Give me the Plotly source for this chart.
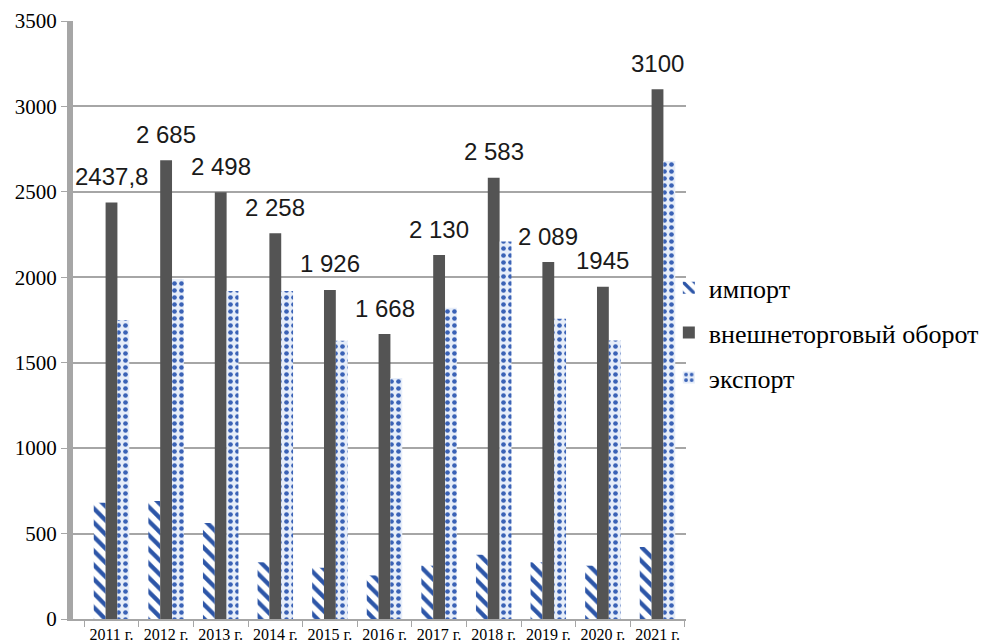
import plotly.graph_objects as go

years = ["2011 г.", "2012 г.", "2013 г.", "2014 г.", "2015 г.", "2016 г.",
         "2017 г.", "2018 г.", "2019 г.", "2020 г.", "2021 г."]
import_vals = [680, 690, 562, 332, 300, 255, 312, 376, 332, 312, 422]
total_vals = [2437.8, 2685, 2498, 2258, 1926, 1668, 2130, 2583, 2089, 1945, 3100]
export_vals = [1750, 1990, 1920, 1920, 1628, 1410, 1822, 2210, 1758, 1630, 2680]
total_labels = ["2437,8", "2 685", "2 498", "2 258", "1 926", "1 668",
                "2 130", "2 583", "2 089", "1945", "3100"]

serif = "Liberation Serif"
sans = "Liberation Sans"

fig = go.Figure()
fig.add_trace(go.Bar(
    x=years, y=import_vals, name="импорт", legendgroup="a",
    marker=dict(color="white", line=dict(width=0),
                pattern=dict(shape="\\", fgcolor="#2d56a8", bgcolor="white",
                             fgopacity=1, size=10, solidity=0.42)),
))
fig.add_trace(go.Bar(
    x=years, y=total_vals, name="внешнеторговый оборот", legendgroup="b",
    marker=dict(color="#545454", line=dict(width=0)),
))
fig.add_trace(go.Bar(
    x=years, y=export_vals, name="экспорт", legendgroup="c",
    marker=dict(color="#e6edf9", line=dict(width=0),
                pattern=dict(shape=".", fgcolor="#3a62b6", bgcolor="#e6edf9",
                             fgopacity=1, size=7, solidity=0.35)),
))

for x, y, t in zip(years, total_vals, total_labels):
    fig.add_annotation(x=x, y=y, text=t, showarrow=False, yshift=26,
                       font=dict(family=sans, size=24, color="#1a1a1a"))

fig.update_layout(
    width=981, height=636,
    margin=dict(l=65, r=303, t=13, b=25, autoexpand=False),
    paper_bgcolor="white", plot_bgcolor="white",
    barmode="group", bargap=0.35, bargroupgap=0.0,
    legend=dict(x=0.972, y=0.593, xanchor="left", yanchor="top",
                font=dict(family=serif, size=26, color="black"),
                tracegroupgap=8, bgcolor="rgba(0,0,0,0)"),
    xaxis=dict(tickfont=dict(family=serif, size=16, color="black"),
               automargin=False,
               showline=True, linecolor="#a6a6a6", linewidth=2,
               ticks="outside", tickson="boundaries", ticklen=6, tickcolor="#a6a6a6",
               showgrid=False),
    yaxis=dict(range=[0, 3500], dtick=500, automargin=False,
               tickfont=dict(family=serif, size=21, color="black"),
               showline=True, linecolor="#a6a6a6", linewidth=6,
               ticks="outside", ticklen=6, tickcolor="#a6a6a6",
               gridcolor="#a6a6a6", gridwidth=1.5, zeroline=False),
)

fig.write_html("out.html")
